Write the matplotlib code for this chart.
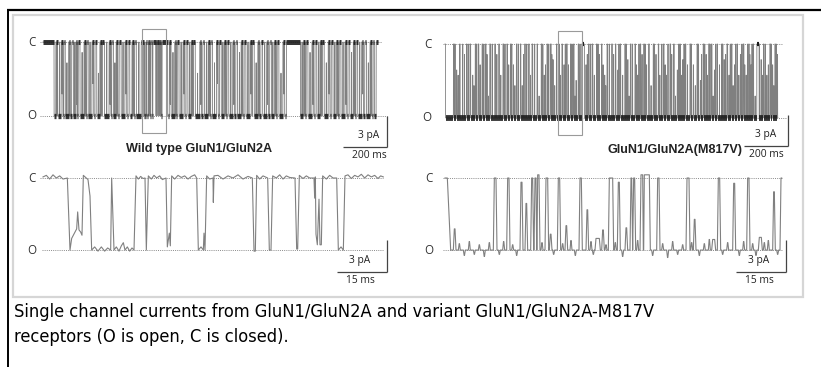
import numpy as np
import matplotlib
matplotlib.use("Agg")
import matplotlib.pyplot as plt
import matplotlib.font_manager as fm
from matplotlib.patches import Rectangle

W, H = 821, 367

# ---------------- data ----------------
top_open_pa = -7.1          # open level of the long records (pA)
bot_open_pa = -6.8          # open level of the expanded records (pA)

# wild type, long record: open intervals (ms)
wt_open_ms = [
    (50, 58), (66, 82), (90, 94), (101, 116), (124, 130), (138, 150), (156, 160),
    (168, 186), (194, 198), (205, 222), (230, 236), (244, 258), (266, 270),
    (279, 300), (308, 312), (320, 332), (340, 346), (355, 372), (380, 386),
    (394, 404), (412, 416), (424, 446),
    (457, 462), (464, 470), (471, 478), (481, 482), (487, 489), (496, 499),
    (513, 514), (517, 519), (526, 527), (531, 534), (538, 541),
    (566, 574), (582, 598), (606, 610), (618, 636), (644, 650), (658, 672),
    (680, 684), (692, 712), (720, 726), (734, 750), (758, 762), (770, 788),
    (796, 802), (810, 824), (832, 836), (844, 862), (870, 876), (884, 900),
    (908, 914), (922, 940), (948, 952), (960, 976), (984, 990), (998, 1016),
    (1024, 1030), (1038, 1052), (1060, 1064), (1072, 1090), (1098, 1106),
    (1170, 1184), (1192, 1196), (1204, 1222), (1230, 1236), (1244, 1258),
    (1266, 1270), (1278, 1296), (1304, 1310), (1318, 1334), (1342, 1346),
    (1354, 1372), (1380, 1386), (1394, 1410), (1418, 1422), (1430, 1448),
    (1456, 1462), (1470, 1486), (1494, 1500), (1506, 1514)]
wt_end_ms = 1523
# wild type, long record: brief flickers inside dwells (ms, level reached pA)
wt_flicker_ms = [62, 74, 86, 108, 120, 144, 153, 177, 190, 213, 226, 251, 262, 289,
                 304, 326, 336, 363, 376, 408, 435, 578, 590, 602, 627, 640, 665,
                 676, 702, 716, 742, 754, 779, 792, 817, 828, 853, 866, 892, 904,
                 931, 944, 968, 980, 1007, 1020, 1044, 1056, 1081, 1094, 1177, 1188,
                 1213, 1226, 1251, 1262, 1287, 1300, 1326, 1338, 1363, 1376, 1402,
                 1414, 1439, 1452, 1478, 1490]
wt_flicker_pa = [-7.1, 0, -5, -2, -7.1, 0, -6, -1, -7.1, 0, -4, -3, -7.1, 0,
                 -6, -2, -7.1, 0, -5, -7.1, 0, -6, -1, -7.1, 0, -5, 0,
                 -7.1, -3, -6, 0, -7.1, -2, -4, 0, -7.1, 0, -6, -1, -7.1,
                 0, -5, -2, -7.1, 0, -6, 0, -7.1, -3, -5, 0, -7.1,
                 -1, -6, 0, -7.1, -2, -5, 0, -7.1, 0, -6, -1,
                 -7.1, 0, -5, -2, -7.1]

# M817V, long record: closures (start ms, peak level pA, dwell ms)
mut_close_ms = [
    38, 52, 66, 97, 113, 125, 137, 150, 168, 184, 190, 203, 226, 244, 263, 281,
    297, 310, 324, 342, 350, 362, 380, 395, 418, 437, 450, 463, 479, 490, 506,
    531, 540, 552, 570, 584, 595, 605, 621, 640, 652, 668, 688, 700, 711, 725,
    736, 757, 774, 785, 796, 817, 830, 842, 863, 875, 887, 903, 915, 925, 946,
    958, 969, 993, 1005, 1022, 1039, 1055, 1067, 1080, 1092, 1113, 1128, 1145,
    1160, 1173, 1186, 1198, 1211, 1224, 1236, 1257, 1268, 1281, 1290, 1302,
    1315, 1327, 1342, 1355, 1368, 1380, 1390, 1400, 1417, 1436, 1447, 1462,
    1476, 1488, 1499, 1510]
mut_close_pa = [
    0, -2.5, 0, 0, 0, -3, 0, 0, 0, 0, -1, 0, 0, 0, 0, 0,
    0, -2, 0, 0, -4, 0, 0, 0, 0, 0, -3, 0, 0, -1.5, 0,
    0, -2, 0, 0, 0, -3.5, 0, 0, -2, 0, 0, 0, -1, 0, -3,
    0, 0, 0, -2.5, 0, 0, -1.5, 0, 0, -3, 0, 0, -2, 0, 0,
    -1, 0, 0, -3, 0, 0, -2.5, 0, -1.5, 0, 0, -2, 0,
    -3.5, 0, -1, 0, 0, -2.5, 0, 0, -1.5, 0, -3, 0,
    -2, 0, -1, 0, -3, 0, -2, 0, 0, -1.5, 0, -3,
    0, -2, 0, -1]
mut_close_dwell = [
    3, 1, 2, 2, 3, 1, 2, 3, 2, 2, 1, 3, 2, 2, 3, 2,
    2, 1, 3, 2, 1, 2, 2, 3, 2, 2, 1, 2, 3, 1, 2,
    2, 1, 3, 2, 2, 1, 2, 12, 1, 2, 3, 2, 1, 2, 1,
    2, 3, 2, 1, 2, 2, 1, 3, 2, 1, 2, 2, 1, 3, 2,
    1, 2, 2, 1, 3, 2, 1, 2, 1, 2, 3, 1, 2,
    1, 2, 1, 3, 2, 1, 2, 2, 1, 3, 1, 2,
    1, 2, 1, 3, 1, 2, 1, 2, 10, 1, 2, 1,
    3, 1, 2, 1]
# M817V, long record: additional very brief closures (ms, level reached pA)
mut_flicker_ms = [
    45, 59, 80, 88, 105, 131, 143, 159, 176, 197, 214, 235, 253, 272, 289, 303,
    317, 333, 356, 371, 388, 407, 427, 444, 456, 471, 485, 498, 518, 524, 546,
    561, 577, 590, 613, 646, 660, 678, 695, 718, 730, 746, 766, 790, 807, 823,
    836, 852, 869, 881, 895, 909, 936, 952, 976, 985, 1000, 1013, 1030, 1047,
    1062, 1074, 1086, 1102, 1120, 1137, 1152, 1166, 1180, 1192, 1204, 1218,
    1230, 1247, 1262, 1275, 1296, 1309, 1321, 1335, 1349, 1362, 1374, 1385,
    1395, 1409, 1429, 1441, 1455, 1469, 1482, 1494, 1505]
mut_flicker_pa = [
    0, -3, 0, -1, 0, -4, 0, -2, 0, -5, 0, -1, -3, 0, -2, 0,
    -4, 0, -1, 0, -3, 0, -5, 0, -2, 0, -1, -4, 0, -3, 0,
    -2, 0, -5, 0, -1, 0, -3, 0, -2, -4, 0, -1, 0, -3, 0,
    -5, 0, -2, 0, -1, 0, -4, 0, -3, 0, -2, 0, -1, -5,
    0, -3, 0, -2, 0, -4, 0, -1, 0, -3, 0, -5,
    0, -2, 0, -1, 0, -4, 0, -3, 0, -2, 0, -1,
    0, -5, 0, -3, 0, -2, 0, -4, 0]
mut_end_ms = 1513

# wild type, expanded record: breakpoints (ms, pA)
wt_zoom_ms = [0, 1.0, 2.0, 3.0, 4.0, 5.0, 6.0, 7.3, 8.1, 8.6, 9.1, 10.1, 10.4,
              10.8, 11.3, 11.7, 12.1, 12.8, 13.5, 14.1, 14.6, 15.5, 16.5, 17.5,
              18.5, 19.4, 20.3, 20.6, 21.3, 22.0, 22.8, 23.5, 24.1, 24.6, 25.3,
              26.0, 26.7, 27.3, 27.9, 28.6, 29.3, 30.0, 30.6, 31.0, 31.6, 32.5,
              33.3, 34.1, 35.0, 35.8, 36.9, 37.3, 37.9, 38.2, 38.6, 39.5, 40.5,
              41.5, 42.5, 43.5, 44.5, 45.5, 46.1, 46.6, 47.4, 48.1, 48.3, 48.6,
              49.1, 50.0, 51.0, 51.1, 51.3, 52.5, 54.0, 55.5, 57.0, 58.5, 60.0,
              61.5, 62.8, 63.3, 63.7, 64.1, 65.0, 66.0, 67.4, 67.9, 68.4, 68.9,
              70.0, 71.0, 72.0, 73.0, 74.0, 75.6, 76.1, 76.4, 76.9, 78.0, 79.0,
              80.0, 81.3, 81.5, 81.7, 81.9, 82.3, 82.8, 83.1, 83.5, 83.9, 85.0,
              86.0, 87.0, 88.1, 88.6, 89.4, 90.1, 90.6, 91.5, 92.5, 93.5, 94.5,
              95.5, 96.5, 97.5, 98.5, 99.5, 100.5, 101.3, 102.1]
wt_zoom_pa = [0.1, 0.25, -0.1, 0.3, 0.0, 0.2, -0.1, 0, -6.8, -5.7, -5.4, -4.8,
              -3.2, -4.9, -5.1, -5.4, 0.25, 0.05, -0.15, -1.7, -6.8, -6.5,
              -6.9, -6.5, -6.9, -6.6, -6.8, 0, -6.8, -6.5, -6.9, -6.4, -6.1,
              -6.8, -6.5, -6.9, -6.6, -6.8, 0.2, -0.1, 0.15, -0.05, 0, -6.8,
              0.2, -0.1, 0.25, 0.0, 0.2, -0.15, 0, -6.5, -5.2, -6.4, 0.2, -0.1,
              0.25, 0.05, 0.2, -0.1, 0.15, 0.3, 0, -6.8, -6.5, -6.8, -5.2,
              -6.8, 0.2, -0.1, 0, -2.3, 0.2, 0.25, -0.1, 0.2, 0.0, 0.3, -0.1,
              0.15, 0, -6.9, -6.9, 0.25, -0.1, 0.2, 0, -6.8, -6.8, 0.2, 0.0,
              0.3, -0.1, 0.2, 0.05, 0, -6.7, -6.7, 0.25, -0.05, 0.2, 0.0, 0,
              -1.9, 0.1, -5.3, -6.3, -2.0, -6.3, -6.3, 0.2, -0.1, 0.25, 0.0, 0,
              -6.8, -6.5, -6.8, 0.2, 0.3, -0.05, 0.25, 0.1, 0.35, 0.0, 0.3,
              0.1, 0.25, -0.05, 0.2, 0.1]

# M817V, expanded record: closures (start ms, peak level pA, dwell ms)
mut_zoom_close_ms = [2.5, 14.5, 18.5, 22.5, 24.0, 25.7, 26.7, 27.5, 30.0, 31.3,
                     33.7, 36.0, 40.2, 42.3, 45.0, 47.0, 49.0, 51.7, 54.0, 55.5,
                     56.3, 58.5, 59.5, 63.5, 72.3, 74.5, 80.0, 81.7, 86.3, 90.5,
                     94.0, 98.3]
mut_zoom_close_pa = [-4.8, 0, 0, -0.4, -2.4, 0, 0, 0.3, 0, -5.3,
                     0, -4.5, 0, -3.0, -5.7, -4.9, 0, -0.4, -4.7, 0,
                     0, 0.3, 0.3, 0, 0, -3.9, -5.8, 0, -0.5, 0,
                     -5.6, -1.3]
mut_zoom_close_dwell = [0.2, 0.5, 0.4, 0.3, 0.2, 0.3, 0.3, 0.4, 0.5, 0.2,
                        0.4, 0.2, 0.4, 0.2, 1.0, 0.2, 1.0, 0.3, 0.2, 0.2,
                        0.3, 0.5, 1.5, 0.4, 0.6, 0.2, 0.6, 0.4, 0.3, 0.4,
                        0.6, 0.2]
# M817V, expanded record: small baseline fluctuations (ms, pA)
mut_zoom_noise_ms = [4, 5.5, 7, 8.5, 10, 11.5, 13, 16, 17.3, 20, 21.2, 28.8, 32.3,
                     35, 37.5, 38.8, 43.5, 44.2, 48, 50.8, 53, 57.5, 62.0, 65,
                     66.5, 68, 69.5, 71, 73.7, 76, 77.5, 79, 83, 84.5, 88, 89.3,
                     92, 93, 95.5, 96.7, 99.5]
mut_zoom_noise_pa = [-6.2, -7.3, -6.0, -7.2, -6.3, -7.4, -6.1, -7.2, -6.0, -6.3,
                     -7.3, -6.1, -7.2, -6.2, -5.9, -7.3, -6.0, -7.2, -6.3, -6.1,
                     -7.4, -5.9, -7.3, -6.2, -7.5, -6.0, -7.2, -6.3, -6.1, -7.3,
                     -6.2, -5.8, -7.2, -6.1, -7.3, -6.0, -6.2, -7.3, -6.1, -5.9,
                     -7.2]
mut_zoom_end_ms = 101.0

scale_pa = 3
scale_ms_top = 200
scale_ms_bot = 15
titles = ["Wild type GluN1/GluN2A", "GluN1/GluN2A(M817V)"]
state_labels = ["C", "O"]
caption = ["Single channel currents from GluN1/GluN2A and variant GluN1/GluN2A-M817V",
           "receptors (O is open, C is closed)."]

# ---------------- figure ----------------
fig = plt.figure(figsize=(W / 100, H / 100), dpi=100)
fig.patch.set_facecolor("white")

ov = fig.add_axes([0, 0, 1, 1])
ov.set_xlim(0, W)
ov.set_ylim(H, 0)
ov.axis("off")
ov.patch.set_alpha(0)

# page frame
ov.plot([7, W], [10, 10], color="black", lw=1.6, solid_capstyle="butt")
ov.plot([7.5, 7.5], [9, H], color="black", lw=1.4, solid_capstyle="butt")
ov.add_patch(Rectangle((13, 15), 790, 282, fill=False, ec="#d6d6d6", lw=1.6))

TRACE = "#808080"
DARK = "#1a1a1a"
LBL = "#333333"
SMALLFONT = ["Open Sans", "DejaVu Sans"]


class Panel:
    def __init__(self, x0, ppm, yc, ppp):
        self.x0, self.ppm, self.yc, self.ppp = x0, ppm, yc, ppp
        ax = fig.add_axes([0, 0, 1, 1])
        ax.set_xlim(-x0 / ppm, (W - x0) / ppm)
        ax.set_ylim(-(H - yc) / ppp, yc / ppp)
        ax.axis("off")
        ax.patch.set_alpha(0)
        self.ax = ax

    def tx(self, px):
        return (px - self.x0) / self.ppm

    def ty(self, py):
        return (self.yc - py) / self.ppp


def level_bands(ax, level, starts, ends, lw, alpha=0.88):
    starts = np.asarray(starts, dtype=float)
    ends = np.asarray(ends, dtype=float)
    ax.hlines(np.full(len(starts), level), starts, ends, colors=DARK, lw=lw,
              alpha=alpha, zorder=3)


def add_excursions(t, I, ex_t, ex_pa, base_fn, rise, hold):
    pts = list(zip(t, I))
    for te, le in zip(ex_t, ex_pa):
        b = base_fn(te)
        pts += [(te, b), (te + rise, le), (te + rise + hold, le), (te + 2 * rise + hold, b)]
    pts.sort(key=lambda p: p[0])
    return [p[0] for p in pts], [p[1] for p in pts]


def decorate(p, open_pa, cx, ox, c_rng, o_rng, sb_corner, sb_ms, txt_dx,
             box=None, title=None, title_xy=None):
    ax = p.ax
    dots = (0, (1.0, 1.2))
    ax.hlines(0, p.tx(c_rng[0]), p.tx(c_rng[1]), colors="#8a8a8a", lw=0.7, linestyles=dots, zorder=1)
    ax.hlines(open_pa, p.tx(o_rng[0]), p.tx(o_rng[1]), colors="#8a8a8a", lw=0.7, linestyles=dots, zorder=1)
    ax.text(p.tx(cx), 0, state_labels[0], ha="center", va="center", fontsize=8.4,
            color=LBL, family=SMALLFONT)
    ax.text(p.tx(ox), open_pa, state_labels[1], ha="center", va="center", fontsize=8.4,
            color=LBL, family=SMALLFONT)
    # scale bar
    bx, by = p.tx(sb_corner[0]), p.ty(sb_corner[1])
    ax.plot([bx, bx], [by, by + scale_pa], color="#444444", lw=0.9, solid_capstyle="butt")
    ax.plot([bx - sb_ms, bx], [by, by], color="#444444", lw=0.9, solid_capstyle="butt")
    mid = bx - sb_ms / 2 + txt_dx / p.ppm
    ax.text(mid, by + 0.6, f"{scale_pa} pA", ha="center",
            va="bottom", fontsize=7.4, color="#222222", family=SMALLFONT)
    ax.text(mid, by - 0.3, f"{sb_ms} ms", ha="center",
            va="top", fontsize=7.4, color="#222222", family=SMALLFONT)
    if box is not None:
        x1, y1, x2, y2 = box
        ax.add_patch(Rectangle((p.tx(x1), p.ty(y2)), p.tx(x2) - p.tx(x1),
                               p.ty(y1) - p.ty(y2), fill=False, ec="#9a9a9a", lw=0.8, zorder=5))
    if title is not None:
        ax.text(p.tx(title_xy[0]), p.ty(title_xy[1]), title, ha="center", va="center",
                fontsize=9.1, fontweight="bold", color="#222222",
                family=["Liberation Sans", "DejaVu Sans"])


# ---- top-left: wild type long record ----
pA = Panel(43, 44 / 200, 42, 10.4)
t, I = [0], [0]
for s, e in wt_open_ms:
    t += [s, s + 0.6, e, e + 0.6]
    I += [0, top_open_pa, top_open_pa, 0]
t.append(wt_end_ms)
I.append(0)


def wt_base(tt):
    for s, e in wt_open_ms:
        if s <= tt <= e:
            return top_open_pa
    return 0.0


t, I = add_excursions(t, I, wt_flicker_ms, wt_flicker_pa, wt_base, 0.4, 0.4)
pA.ax.plot(t, I, color=TRACE, lw=0.6, zorder=2)
closed_starts = [0] + [e for s, e in wt_open_ms]
closed_ends = [s for s, e in wt_open_ms] + [wt_end_ms]
level_bands(pA.ax, 0, closed_starts, closed_ends, 3.6)
level_bands(pA.ax, top_open_pa, [s for s, e in wt_open_ms], [e for s, e in wt_open_ms], 3.8)
decorate(pA, top_open_pa, 32, 32, (40, 382), (40, 387), (387, 147), scale_ms_top, 4,
         box=(142, 29, 166, 133), title=titles[0], title_xy=(199, 149))

# ---- top-right: M817V long record ----
pB = Panel(445, 44 / 200, 44, 10.4)
t, I = [0, 2, 2.6], [0, 0, top_open_pa]
for c, l, d in zip(mut_close_ms, mut_close_pa, mut_close_dwell):
    t += [c, c + 0.6, c + 0.6 + d, c + 1.2 + d]
    I += [top_open_pa, l, l, top_open_pa]
t.append(mut_end_ms)
I.append(top_open_pa)
t, I = add_excursions(t, I, mut_flicker_ms, mut_flicker_pa, lambda tt: top_open_pa, 0.4, 0.3)
pB.ax.plot(t, I, color=TRACE, lw=0.6, zorder=2)
o_starts = [2.6] + [c + 1.2 + d for c, d in zip(mut_close_ms, mut_close_dwell)]
o_ends = list(mut_close_ms) + [mut_end_ms]
level_bands(pB.ax, top_open_pa, o_starts, o_ends, 4.2)
long_c = [(c, d) for c, l, d in zip(mut_close_ms, mut_close_pa, mut_close_dwell) if d >= 5]
level_bands(pB.ax, 0, [0] + [c for c, d in long_c], [2] + [c + d for c, d in long_c], 3.0, 1.0)
decorate(pB, top_open_pa, 428, 427, (443, 782), (447, 787), (788, 146), scale_ms_top, 0,
         box=(558, 31, 582, 135), title=titles[1], title_xy=(675, 150))

# ---- bottom-left: wild type expanded ----
pC = Panel(43, 50 / 15, 178, 10.6)
pC.ax.plot(wt_zoom_ms, wt_zoom_pa, color=TRACE, lw=0.8, zorder=2)
decorate(pC, bot_open_pa, 32, 32, (40, 383), (42, 383), (387, 272), scale_ms_bot, -2)

# ---- bottom-right: M817V expanded ----
pD = Panel(445, 50 / 15, 178, 10.6)
t, I = [0, 0.7, 1.7], [0, 0, bot_open_pa]
for c, l, d in zip(mut_zoom_close_ms, mut_zoom_close_pa, mut_zoom_close_dwell):
    t += [c, c + 0.3, c + 0.3 + d, c + 0.6 + d]
    I += [bot_open_pa, l, l, bot_open_pa]
t += [100.5, 100.8, mut_zoom_end_ms]
I += [bot_open_pa, 0, 0]
t, I = add_excursions(t, I, mut_zoom_noise_ms, mut_zoom_noise_pa, lambda tt: bot_open_pa, 0.25, 0.1)
pD.ax.plot(t, I, color=TRACE, lw=0.8, zorder=2)
decorate(pD, bot_open_pa, 429, 429, (443, 783), (443, 783), (786, 272), scale_ms_bot, -2)

# ---- caption ----
narrow = None
for f in fm.fontManager.ttflist:
    nm = f.name.lower()
    if f.style == "normal" and f.weight in (400, "normal", "regular") and (
            "narrow" in nm or "condensed" in nm or f.stretch in ("condensed", "semi-condensed")):
        if "sans" in nm or "roboto" in nm or "arial" in nm:
            narrow = f
            break
if narrow is not None:
    capprops = dict(fontproperties=fm.FontProperties(fname=narrow.fname))
else:
    capprops = dict(family=["Liberation Sans", "DejaVu Sans"])

c1 = ov.text(14, 317, caption[0], ha="left", va="baseline", color="black", **capprops)
c2 = ov.text(14, 342, caption[1], ha="left", va="baseline", color="black", **capprops)
c1.set_fontsize(14.5)
c2.set_fontsize(14.5)
fig.canvas.draw()
w = c1.get_window_extent(fig.canvas.get_renderer()).width
fs = 14.5 * 638 / w
c1.set_fontsize(fs)
c2.set_fontsize(fs)

fig.savefig("out.png", dpi=100, facecolor="white")
